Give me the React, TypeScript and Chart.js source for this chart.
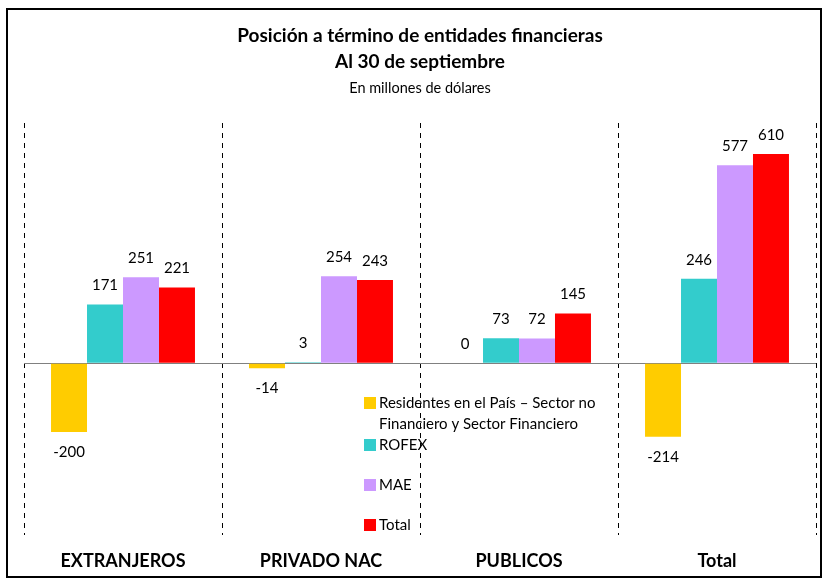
import React, { useEffect, useRef } from "react";
import { Chart, registerables } from "chart.js";

Chart.register(...registerables);

const categories = ["EXTRANJEROS", "PRIVADO NAC", "PUBLICOS", "Total"];
const seriesNames = [
  "Residentes en el País – Sector no Financiero y Sector Financiero",
  "ROFEX",
  "MAE",
  "Total",
];
const residentes = [-200, -14, 0, -214];
const rofex = [171, 3, 73, 246];
const mae = [251, 254, 72, 577];
const total = [221, 243, 145, 610];
const colors = ["#FFCC00", "#33CCCC", "#CC99FF", "#FF0000"];
const titleLines = ["Posición a término de entidades financieras", "Al 30 de septiembre"];
const subtitleText = "En millones de dólares";

const FONT = "Lato, 'Open Sans', sans-serif";

const dataLabelPlugin = {
  id: "dataLabels",
  afterDatasetsDraw(chart: any) {
    const ctx = chart.ctx;
    ctx.save();
    ctx.font = `15px ${FONT}`;
    ctx.fillStyle = "#000";
    ctx.textAlign = "center";
    ctx.textBaseline = "middle";
    chart.data.datasets.forEach((ds: any, i: number) => {
      const meta = chart.getDatasetMeta(i);
      meta.data.forEach((bar: any, j: number) => {
        const v = ds.data[j];
        const y = v >= 0 ? bar.y - 19 : bar.y + 20;
        ctx.fillText(String(v), bar.x, y);
      });
    });
    ctx.restore();
  },
};

const categoryLabelPlugin = {
  id: "categoryLabels",
  afterDraw(chart: any) {
    const ctx = chart.ctx;
    const xs = chart.scales.x;
    ctx.save();
    ctx.font = `bold 18px ${FONT}`;
    ctx.fillStyle = "#000";
    ctx.textAlign = "center";
    ctx.textBaseline = "middle";
    chart.data.labels.forEach((lab: string, i: number) => {
      ctx.fillText(lab, xs.getPixelForTick(i), chart.chartArea.bottom + 26);
    });
    ctx.restore();
  },
};

const legendPlugin = {
  id: "customLegend",
  afterDraw(chart: any) {
    const ctx = chart.ctx;
    const area = chart.chartArea;
    const x0 = area.left + 340;
    let y = area.top + 280;
    const lineH = 21;
    const maxW = 235;
    ctx.save();
    ctx.font = `15px ${FONT}`;
    ctx.textBaseline = "middle";
    ctx.textAlign = "left";
    chart.data.datasets.forEach((ds: any) => {
      const words = String(ds.label).split(" ");
      const lines: string[] = [];
      let cur = "";
      words.forEach((w) => {
        const test = cur ? cur + " " + w : w;
        if (ctx.measureText(test).width > maxW && cur) {
          lines.push(cur);
          cur = w;
        } else cur = test;
      });
      if (cur) lines.push(cur);
      ctx.fillStyle = ds.backgroundColor;
      ctx.fillRect(x0, y - 6, 12, 12);
      ctx.fillStyle = "#000";
      lines.forEach((ln, k) => ctx.fillText(ln, x0 + 15, y + k * lineH));
      y += Math.max(lines.length * lineH, 40);
    });
    ctx.restore();
  },
};

export default function App() {
  const ref = useRef<HTMLCanvasElement>(null);
  useEffect(() => {
    if (!ref.current) return;
    const seriesData = [residentes, rofex, mae, total];
    const chart = new Chart(ref.current, {
      type: "bar",
      data: {
        labels: categories,
        datasets: seriesData.map((d, i) => ({
          label: seriesNames[i],
          data: d,
          backgroundColor: colors[i],
          borderWidth: 0,
          categoryPercentage: 0.727,
          barPercentage: 1,
        })),
      },
      options: {
        animation: false,
        responsive: true,
        maintainAspectRatio: false,
        layout: { padding: { left: 16, right: 4, top: 0, bottom: 41 } },
        plugins: {
          legend: { display: false },
          tooltip: { enabled: false },
          title: {
            display: true,
            text: titleLines,
            color: "#000",
            font: { family: FONT, size: 19, weight: "bold", lineHeight: "26px" },
            padding: { top: 13, bottom: 0 },
          },
          subtitle: {
            display: true,
            text: subtitleText,
            color: "#000",
            font: { family: FONT, size: 14.5, weight: "normal", lineHeight: "26px" },
            padding: { top: 0, bottom: 22 },
          },
        },
        scales: {
          x: {
            grid: {
              offset: true,
              color: "#000",
              lineWidth: 1,
              drawTicks: false,
            },
            border: { display: false, dash: [5, 5] },
            ticks: { display: false },
          },
          y: {
            min: -500,
            max: 700,
            ticks: { display: false, stepSize: 100 },
            grid: {
              drawTicks: false,
              color: (c: any) => (c.tick && c.tick.value === 0 ? "#808080" : "rgba(0,0,0,0)"),
              lineWidth: 1,
            },
            border: { display: false },
          },
        },
      },
      plugins: [dataLabelPlugin, categoryLabelPlugin, legendPlugin],
    });
    return () => chart.destroy();
  }, []);
  return (
    <div
      style={{
        position: "absolute",
        left: 6,
        top: 8,
        width: 816,
        height: 570,
        border: "2px solid #000",
        boxSizing: "border-box",
        background: "#fff",
      }}
    >
      <div style={{ position: "relative", width: "100%", height: "100%" }}>
        <canvas ref={ref} />
      </div>
    </div>
  );
}
